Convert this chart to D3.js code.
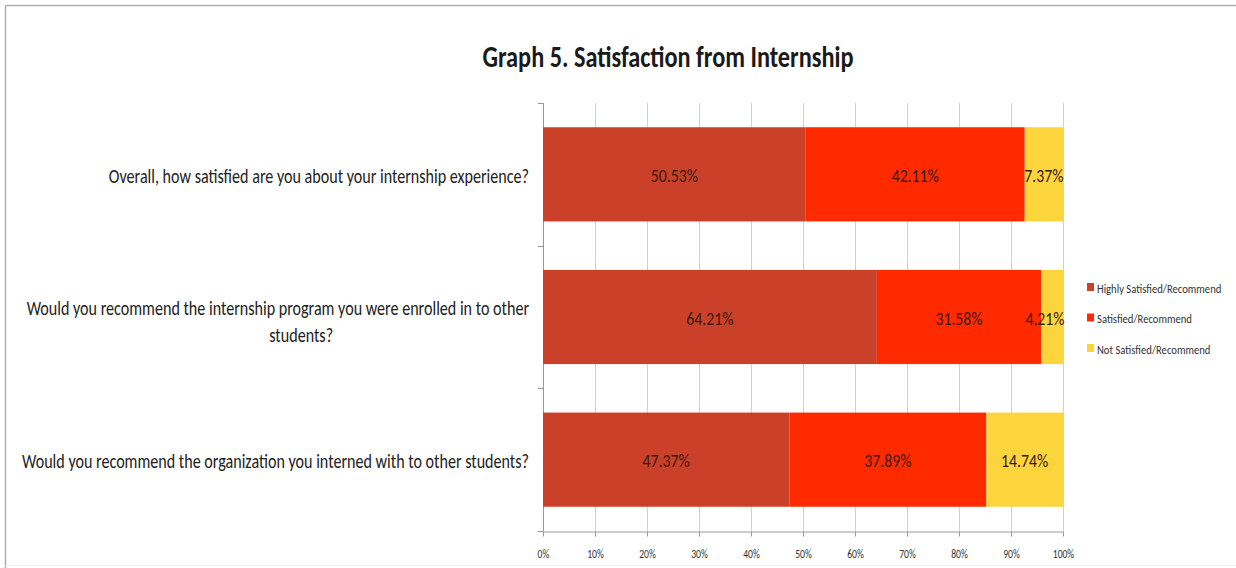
<!DOCTYPE html>
<html><head><meta charset="utf-8">
<script src="https://cdn.jsdelivr.net/npm/d3@7"></script>
<style>
body{margin:0;background:#fff;}
text{font-family:Carlito,"Liberation Sans Narrow","Open Sans",sans-serif;}
</style></head>
<body><svg id="c" width="1236" height="568"></svg>
<script>
const categories = [
  ["Overall, how satisfied are you about your internship experience?"],
  ["Would you recommend the internship program you were enrolled in to other","students?"],
  ["Would you recommend the organization you interned with to other students?"]
];
const seriesNames = ["Highly Satisfied/Recommend","Satisfied/Recommend","Not Satisfied/Recommend"];
const highly = [50.53, 64.21, 47.37];
const satisfied = [42.11, 31.58, 37.89];
const notSatisfied = [7.37, 4.21, 14.74];
const colors = ["#CB4029","#FF2A00","#FCD43C"];
const tickValues = [0,10,20,30,40,50,60,70,80,90,100];
const title = "Graph 5. Satisfaction from Internship";

const svg = d3.select("#c");
svg.append("line").attr("x1",5.5).attr("x2",1236).attr("y1",5.5).attr("y2",5.5).attr("stroke","#b0b0b0").attr("stroke-width",1.5);
svg.append("line").attr("x1",5.5).attr("x2",5.5).attr("y1",5.5).attr("y2",568).attr("stroke","#b0b0b0").attr("stroke-width",1.5);
svg.append("line").attr("x1",5.5).attr("x2",1236).attr("y1",565.5).attr("y2",565.5).attr("stroke","#eeeeee").attr("stroke-width",1);

function squish(sel, s){
  sel.each(function(){
    const t=d3.select(this);
    const x=+t.attr("x")||0, y=+t.attr("y")||0;
    const tr=t.attr("transform")||"";
    t.attr("x",null).attr("y",null).attr("transform",`${tr} translate(${x},${y}) scale(${s},1)`);
  });
}

const x = d3.scaleLinear().domain([0,100]).range([543,1063]);
const y = d3.scaleBand().domain(d3.range(categories.length)).range([103,531]).paddingInner(0.34).paddingOuter(0.17);

const tt = svg.append("text").attr("x",668).attr("y",67).attr("text-anchor","middle")
  .attr("font-size",30).attr("font-weight","bold").attr("fill","#1a1a1a").text(title);
squish(tt, 0.81);

// gridlines
svg.append("g").selectAll("line").data(tickValues).join("line")
  .attr("x1",d=>x(d)+0.5).attr("x2",d=>x(d)+0.5).attr("y1",103).attr("y2",531)
  .attr("stroke","#d0d0d0").attr("stroke-width",1);

// x axis
const xa = svg.append("g").attr("transform","translate(0,531.5)")
  .call(d3.axisBottom(x).tickValues(tickValues).tickFormat(d=>d+"%").tickSize(5).tickSizeOuter(0));
xa.select(".domain").attr("stroke","#999");
xa.selectAll(".tick line").attr("stroke","#999");
xa.selectAll("text").attr("font-size",13).attr("fill","#333").attr("dy","0.71em").attr("y",17);
squish(xa.selectAll("text"), 0.74);

// y axis
const bandEdges = d3.range(categories.length+1).map(i=>103 + i*(428/categories.length));
svg.append("line").attr("x1",543.5).attr("x2",543.5).attr("y1",103).attr("y2",531).attr("stroke","#999");
svg.append("g").selectAll("line").data(bandEdges).join("line")
  .attr("x1",538).attr("x2",543).attr("y1",d=>Math.round(d)+0.5).attr("y2",d=>Math.round(d)+0.5).attr("stroke","#999");

const series = [highly, satisfied, notSatisfied];
const stacked = categories.map((c,i)=>{
  let acc=0;
  return series.map((s,k)=>{const v=s[i]; const r={i,k,x0:acc,x1:acc+v,v}; acc+=v; return r;});
}).flat();

svg.append("g").selectAll("rect").data(stacked).join("rect")
  .attr("x",d=>x(d.x0)).attr("width",d=>x(Math.min(d.x1,100))-x(d.x0))
  .attr("y",d=>y(d.i)).attr("height",y.bandwidth())
  .attr("fill",d=>colors[d.k]);

const dl = svg.append("g").selectAll("text").data(stacked).join("text")
  .attr("x",d=>{const c=x((d.x0+Math.min(d.x1,100))/2); return d.v<6 ? x(100)-18 : c;})
  .attr("y",d=>y(d.i)+y.bandwidth()/2).attr("dy","0.4em")
  .attr("text-anchor","middle").attr("font-size",19).attr("fill","#3a1a10")
  .text(d=>d.v.toFixed(2)+"%");
squish(dl, 0.83);

// category labels
const cl = svg.append("g").selectAll("text").data(categories).join("text")
  .attr("font-size",20).attr("fill","#222")
  .attr("x",529).attr("y",(d,i)=>y(i)+y.bandwidth()/2);
cl.each(function(lines){
  const t=d3.select(this);
  const n=lines.length, lh=27;
  lines.forEach((ln,j)=>{
    const short = ln.length<20;
    t.append("tspan").attr("x",short? -283:0).attr("text-anchor",short?"middle":"end")
      .attr("y",(j-(n-1)/2)*lh + (n>1?3:0)).attr("dy","0.42em").text(ln);
  });
});
squish(cl, 0.805);

// legend
const lg = svg.append("g").selectAll("g").data(seriesNames).join("g")
  .attr("transform",(d,i)=>`translate(1087,${288+i*30.5})`);
lg.append("rect").attr("x",0).attr("y",-5).attr("width",7).attr("height",8).attr("fill",(d,i)=>colors[i]);
const lt = lg.append("text").attr("x",10).attr("y",0).attr("dy","0.38em").attr("font-size",13).attr("fill","#333").text(d=>d);
squish(lt, 0.82);
</script></body></html>
